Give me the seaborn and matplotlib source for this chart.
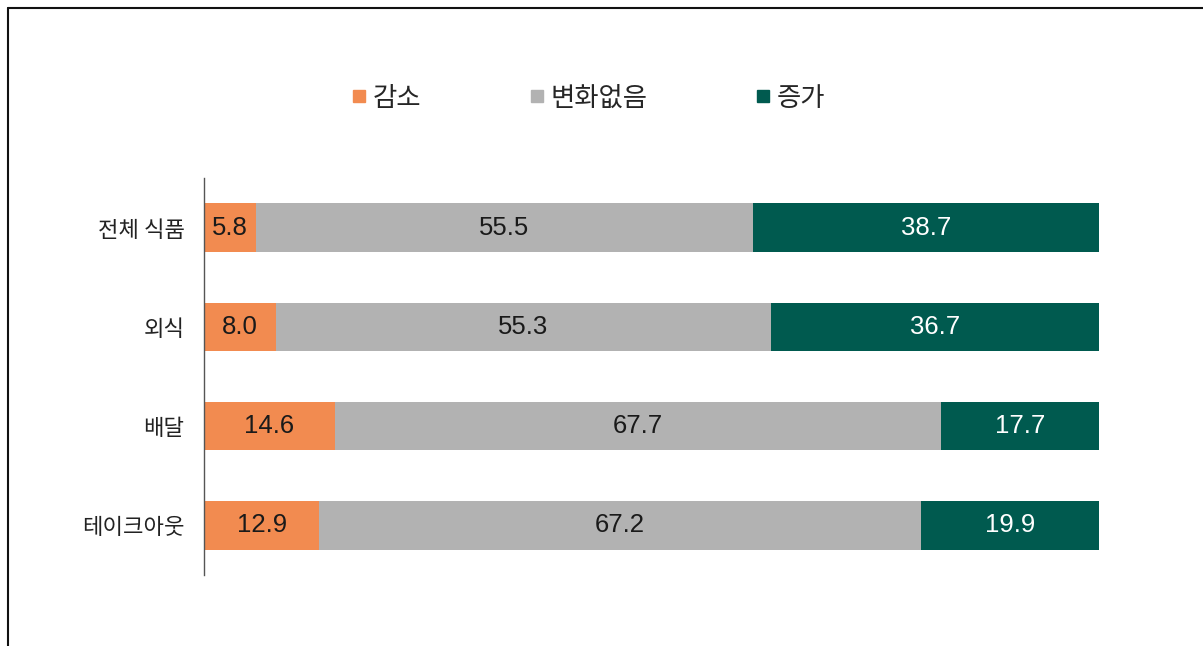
import matplotlib
matplotlib.use("Agg")
import matplotlib.pyplot as plt
from matplotlib.lines import Line2D
import seaborn as sns
import pandas as pd

# %% data
categories = ["전체 식품", "외식", "배달", "테이크아웃"]
series_names = ["감소", "변화없음", "증가"]
decrease = [5.8, 8.0, 14.6, 12.9]
no_change = [55.5, 55.3, 67.7, 67.2]
increase = [38.7, 36.7, 17.7, 19.9]

colors = ["#F28B50", "#B2B2B2", "#005A4F"]
label_colors = ["#1a1a1a", "#1a1a1a", "#ffffff"]

# %% style
sns.set_style("white")
plt.rcParams["font.family"] = ["Noto Sans CJK KR", "DejaVu Sans"]

df = pd.DataFrame({"category": categories, "감소": decrease,
                   "변화없음": no_change, "증가": increase})
# cumulative right edges; draw the longest first so shorter ones sit on top
df["c1"] = df["감소"]
df["c2"] = df["c1"] + df["변화없음"]
df["c3"] = df["c2"] + df["증가"]

# %% plot
fig = plt.figure(figsize=(12.03, 6.46), dpi=100)
ax = fig.add_axes([0.1696, 0.1099, 0.744, 0.6146])

for col, c in zip(["c3", "c2", "c1"], colors[::-1]):
    sns.barplot(data=df, y="category", x=col, color=c, width=0.49,
                saturation=1, orient="h", errorbar=None, linewidth=0, ax=ax)

# value labels in the middle of each segment
lefts = [0.0] * len(categories)
for vals, tc in zip([decrease, no_change, increase], label_colors):
    for i, v in enumerate(vals):
        ax.text(lefts[i] + v / 2, i, f"{v:.1f}", ha="center", va="center",
                color=tc, fontsize=18.5, family="Liberation Sans")
        lefts[i] += v

ax.set_xlim(0, 100)
ax.set_ylim(3.5, -0.5)
ax.set_xticks([])
ax.set_xlabel("")
ax.set_ylabel("")
for s in ["top", "right", "bottom"]:
    ax.spines[s].set_visible(False)
ax.spines["left"].set_color("#555555")
ax.spines["left"].set_linewidth(1)
ax.tick_params(axis="y", length=0, pad=14, labelsize=16, labelcolor="#222222")

# legend with small squares
handles = [Line2D([], [], marker="s", linestyle="", markersize=9, color=c) for c in colors]
fig.legend(handles, series_names, ncol=3, loc="center",
           bbox_to_anchor=(588 / 1203, 0.848), frameon=False, fontsize=19,
           columnspacing=4.1, handletextpad=0.2, handlelength=0.6)

# frame lines (top and left) as in the cropped source
fig.add_artist(Line2D([0.0066, 1.01], [0.987, 0.987], transform=fig.transFigure,
                      color="#111111", lw=1.5))
fig.add_artist(Line2D([0.0066, 0.0066], [-0.01, 0.987], transform=fig.transFigure,
                      color="#111111", lw=1.5))

fig.savefig("out.png", dpi=100)
